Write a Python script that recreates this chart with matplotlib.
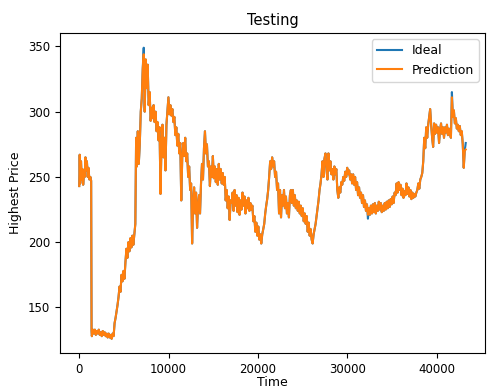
import matplotlib
matplotlib.use("Agg")
import matplotlib.pyplot as plt

# sample positions (time index) and highest price, ideal series
time = [
    0, 55, 110, 200, 290, 365, 440, 530, 620, 695, 775, 860, 950, 1030, 1140, 1250, 1335, 1380,
    1414, 1525, 1635, 1746, 1857, 1967, 2077, 2188, 2298, 2409, 2520, 2630, 2740, 2851, 2962,
    3072, 3182, 3293, 3404, 3514, 3624, 3735, 3846, 3956, 4066, 4177, 4288, 4398, 4508, 4619,
    4730, 4840, 4950, 5061, 5172, 5282, 5392, 5503, 5614, 5724, 5834, 5945, 6056, 6166, 6276,
    6365, 6442,
    6553, 6663, 6774, 6884, 6995, 7105, 7216, 7326, 7437, 7547,
    7658, 7768, 7879, 7989, 8100, 8210, 8321, 8431, 8542, 8652,
    8763, 8873, 8984, 9094, 9205, 9315, 9426, 9536, 9647, 9757,
    9868, 9978, 10089, 10199, 10310, 10420, 10531, 10641, 10752, 10862,
    10973, 11083, 11194, 11304, 11415, 11525, 11636, 11746, 11857, 11967,
    12078, 12188, 12299, 12409, 12520, 12630, 12741, 12851, 12962, 13072,
    13183, 13293, 13404, 13514, 13625, 13735, 13846, 13956, 14067, 14177,
    14288, 14398, 14509, 14619, 14730, 14840, 14951, 15061, 15172, 15282,
    15393, 15503, 15614, 15724, 15835, 15945, 16056, 16166, 16277, 16387,
    16498, 16608, 16719, 16829, 16940, 17050, 17161, 17271, 17382, 17492,
    17603, 17713, 17824, 17934, 18045, 18155, 18266, 18376, 18487, 18597,
    18708, 18818, 18929, 19039, 19150, 19260, 19371, 19481, 19592, 19702,
    19813, 19923, 20034, 20144, 20255, 20365, 20476, 20586, 20697, 20807,
    20918, 21028, 21139, 21249, 21360, 21470, 21581, 21691, 21802, 21912,
    22023, 22133, 22244, 22354, 22465, 22575, 22686, 22796, 22907, 23017,
    23128, 23238, 23349, 23459, 23570, 23680, 23791, 23901, 24012, 24122,
    24233, 24343, 24454, 24564, 24675, 24785, 24896, 25006, 25117, 25227,
    25338, 25448, 25559, 25669, 25780, 25890, 26001, 26111, 26222, 26332,
    26443, 26553, 26664, 26774, 26885, 26995, 27106, 27216, 27327, 27437,
    27548, 27658, 27769, 27879, 27990, 28100, 28211, 28321, 28432, 28542,
    28653, 28763, 28874, 28984, 29095, 29205, 29316, 29426, 29537, 29647,
    29758, 29868, 29979, 30089, 30200, 30310, 30421, 30531, 30642, 30752,
    30863, 30973, 31084, 31194, 31305, 31415, 31526, 31636, 31747, 31857,
    31968, 32078, 32189, 32299, 32410, 32520, 32631, 32741, 32852, 32962,
    33073, 33183, 33294, 33404, 33515, 33625, 33736, 33846, 33957, 34067,
    34178, 34288, 34399, 34509, 34620, 34730, 34841, 34951, 35062, 35172,
    35283, 35393, 35504, 35614, 35725, 35835, 35946, 36056, 36167, 36277,
    36388, 36498, 36609, 36719, 36830, 36940, 37051, 37161, 37272, 37382,
    37493, 37603, 37714, 37824, 37935, 38045, 38156, 38266, 38377, 38487,
    38598, 38708, 38819, 38929, 39040, 39150, 39261, 39371, 39482, 39592,
    39703, 39813, 39924, 40034, 40145, 40255, 40366, 40476, 40587, 40697,
    40808, 40918, 41029, 41139, 41250, 41360, 41471, 41581, 41692, 41802,
    41913, 42023, 42134, 42244, 42355, 42465, 42576, 42686, 42797, 42907,
    43018, 43128, 43239,
]

ideal = [
    243, 267, 245, 262, 248, 256, 244, 252, 250, 265, 255, 262, 250, 257, 248, 250, 247, 132,
    128, 133, 130, 133, 129, 132, 130, 133, 129, 131, 128, 132, 129, 131, 128,
    130, 127, 130, 127, 129, 126, 130, 128, 138, 142, 147, 152, 158, 166, 162,
    175, 170, 178, 172, 185, 195, 188, 200, 193, 203, 196, 205, 198, 206, 214,
    280, 258,
    285, 260, 275, 300, 310, 333, 349, 300, 340, 318,
    336, 305, 315, 293, 303, 295, 305, 292, 300, 285,
    292, 278, 288, 237, 275, 290, 265, 280, 255, 290,
    300, 311, 298, 305, 297, 302, 292, 296, 282, 288,
    274, 283, 268, 276, 232, 265, 276, 266, 280, 262,
    268, 250, 258, 240, 245, 199, 230, 242, 222, 238,
    211, 228, 236, 222, 245, 260, 248, 272, 285, 268,
    275, 258, 262, 243, 258, 250, 266, 249, 258, 246,
    256, 244, 260, 248, 256, 245, 253, 244, 250, 232,
    240, 226, 235, 217, 232, 230, 238, 224, 240, 228,
    236, 223, 234, 221, 232, 225, 238, 228, 235, 222,
    232, 226, 234, 224, 230, 225, 228, 216, 220, 208,
    215, 205, 212, 202, 206, 199, 206, 210, 214, 222,
    228, 233, 240, 250, 262, 256, 265, 258, 262, 250,
    254, 240, 245, 222, 240, 219, 236, 228, 240, 226,
    235, 222, 230, 219, 236, 240, 230, 240, 228, 236,
    226, 232, 224, 231, 222, 228, 220, 226, 216, 222,
    214, 220, 208, 215, 205, 210, 202, 199, 206, 210,
    214, 220, 226, 232, 240, 245, 252, 262, 250, 264,
    268, 256, 248, 268, 255, 262, 252, 256, 248, 258,
    252, 256, 240, 234, 242, 238, 246, 244, 250, 247,
    254, 250, 257, 252, 255, 248, 252, 245, 252, 244,
    250, 240, 246, 236, 242, 234, 238, 230, 236, 227,
    232, 224, 229, 218, 226, 221, 228, 222, 229, 223,
    230, 222, 228, 224, 231, 225, 230, 223, 228, 224,
    230, 225, 231, 226, 232, 227, 233, 229, 235, 230,
    238, 236, 245, 238, 246, 240, 244, 236, 241, 234,
    239, 236, 245, 237, 242, 235, 240, 233, 238, 234,
    237, 235, 238, 240, 245, 241, 248, 250, 253, 262,
    280, 272, 288, 280, 290, 296, 302, 290, 280, 273,
    291, 283, 290, 284, 288, 276, 286, 291, 283, 288,
    280, 288, 284, 290, 282, 287, 283, 280, 315, 296,
    301, 291, 295, 287, 290, 285, 289, 282, 285, 275,
    257, 270, 276,
]

# prediction follows the ideal curve except at these samples
pred_time = [7216, 32299, 41692, 43239]
pred_value = [344, 221, 311, 271]

prediction = list(ideal)
for t, v in zip(pred_time, pred_value):
    prediction[time.index(t)] = v

fig = plt.figure(figsize=(4.87, 3.90), dpi=100)
ax = fig.add_axes([0.123, 0.094, 0.873, 0.821])

ax.plot(time, ideal, color='tab:blue', linewidth=1.5, label='Ideal')
ax.plot(time, prediction, color='tab:orange', linewidth=1.5, label='Prediction')

ax.set_title('Testing', fontsize=10.5)
ax.set_xlabel('Time', fontsize=9, labelpad=0)
ax.set_ylabel('Highest Price', fontsize=9)
ax.tick_params(labelsize=8.5)
ax.legend(loc='upper right', fontsize=9)

fig.savefig('out.png', dpi=100)
